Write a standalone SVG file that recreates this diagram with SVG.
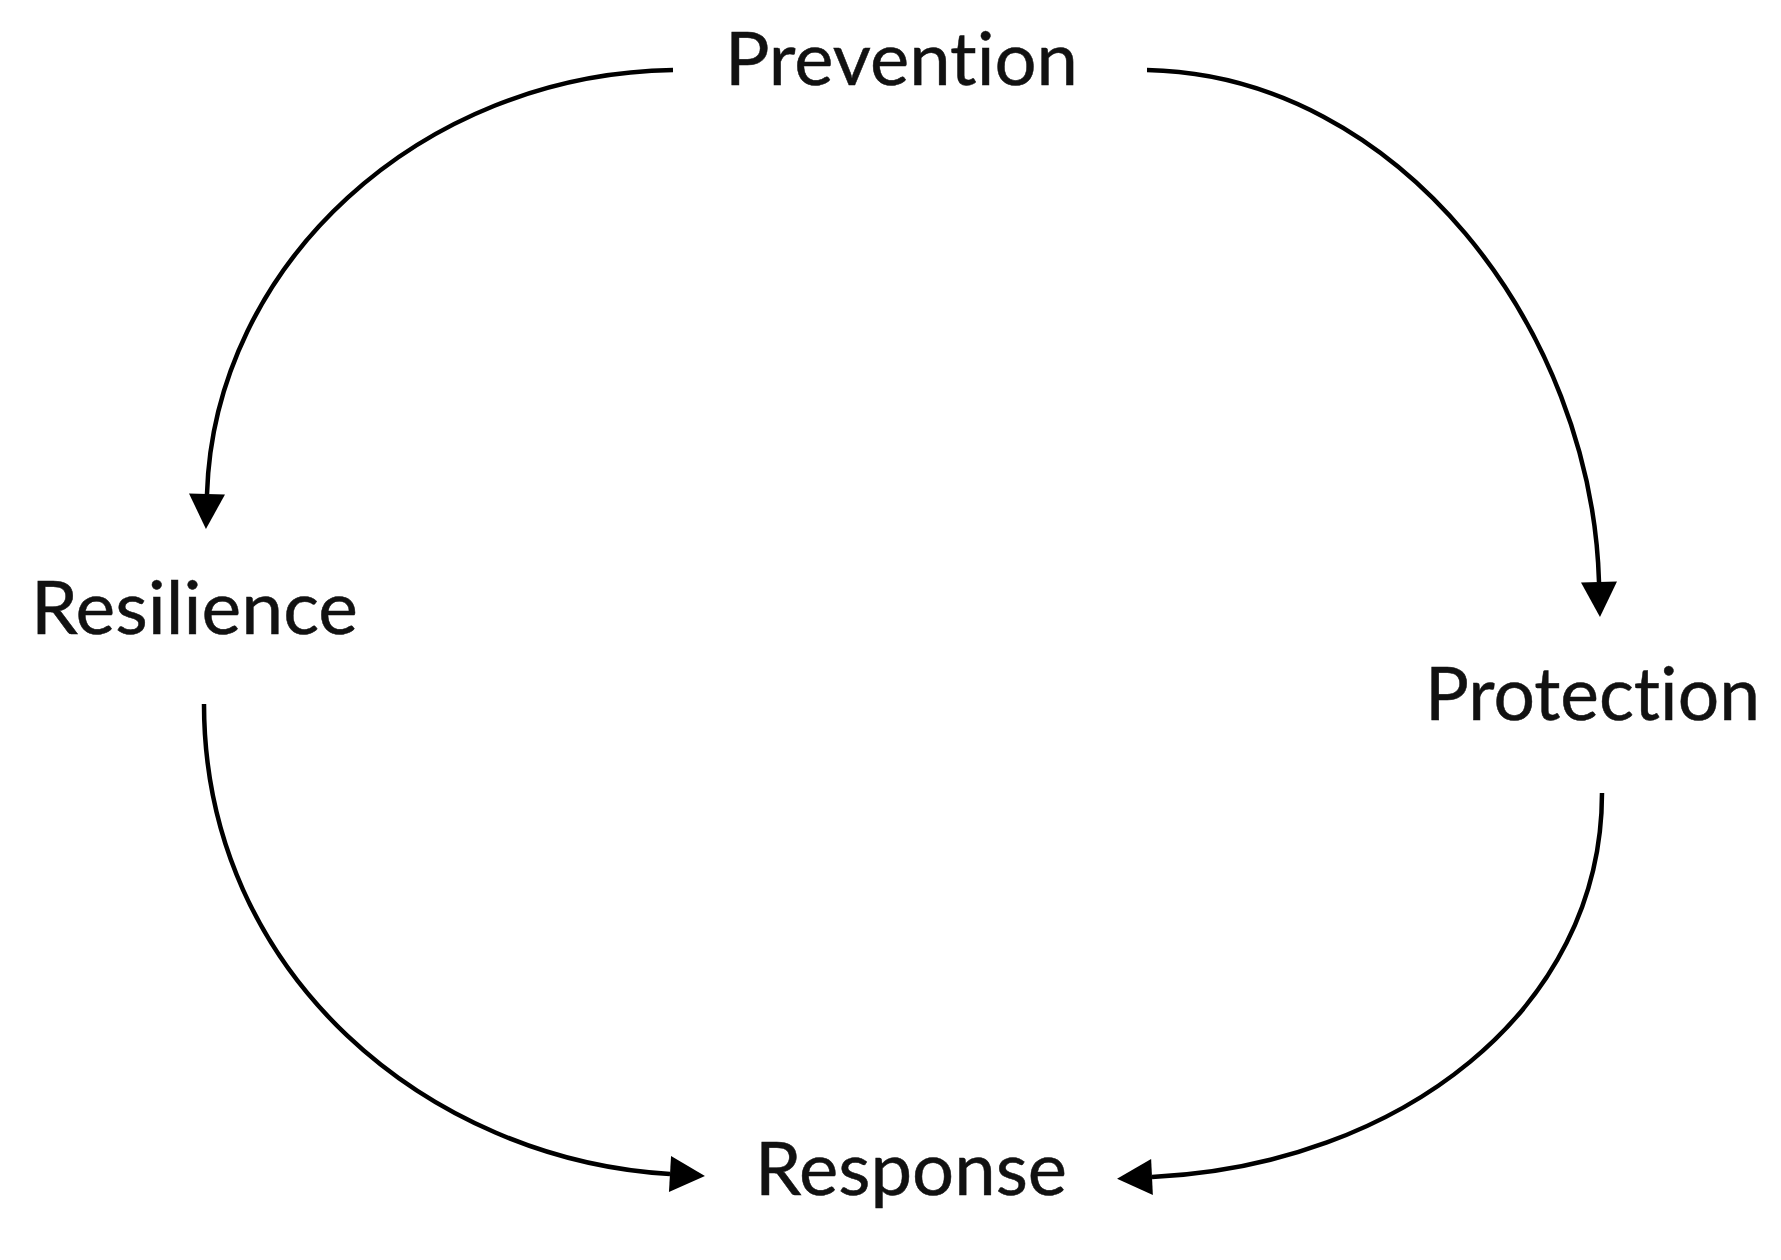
<svg xmlns="http://www.w3.org/2000/svg" width="1781" height="1260" viewBox="0 0 1781 1260">
<style>
.lbl{font-family:Lato,"Open Sans","Liberation Sans",sans-serif;font-size:74px;fill:#111;stroke:#111;stroke-width:0.5;font-variant-ligatures:none;font-feature-settings:"liga" 0;}
.arc{fill:none;stroke:#000;stroke-width:4.5;}
</style>
<defs>
<marker id="ah" markerUnits="userSpaceOnUse" markerWidth="38" markerHeight="38" refX="0" refY="18" orient="auto" overflow="visible">
<path d="M0,0 L35,18 L0,36 Z" fill="#000"/>
</marker>
</defs>
<rect width="1781" height="1260" fill="#fff"/>
<g id="connectors">
<path class="arc" d="M673,70 C420,74 214,265 207,494" marker-end="url(#ah)"/>
<path class="arc" d="M1147,70 C1400,75 1592,330 1599,582" marker-end="url(#ah)"/>
<path class="arc" d="M204,704 C204,975 430,1160 670,1174" marker-end="url(#ah)"/>
<path class="arc" d="M1602,793 C1602,1010 1400,1165 1152,1177" marker-end="url(#ah)"/>
</g>
<g id="prevention"><text class="lbl" x="725" y="85" textLength="353" lengthAdjust="spacingAndGlyphs">Prevention</text></g>
<g id="resilience"><text class="lbl" x="31" y="634" textLength="327" lengthAdjust="spacingAndGlyphs">Resilience</text></g>
<g id="protection"><text class="lbl" x="1425" y="720" textLength="335" lengthAdjust="spacingAndGlyphs">Protection</text></g>
<g id="response"><text class="lbl" x="755" y="1195" textLength="312" lengthAdjust="spacingAndGlyphs">Response</text></g>
</svg>
